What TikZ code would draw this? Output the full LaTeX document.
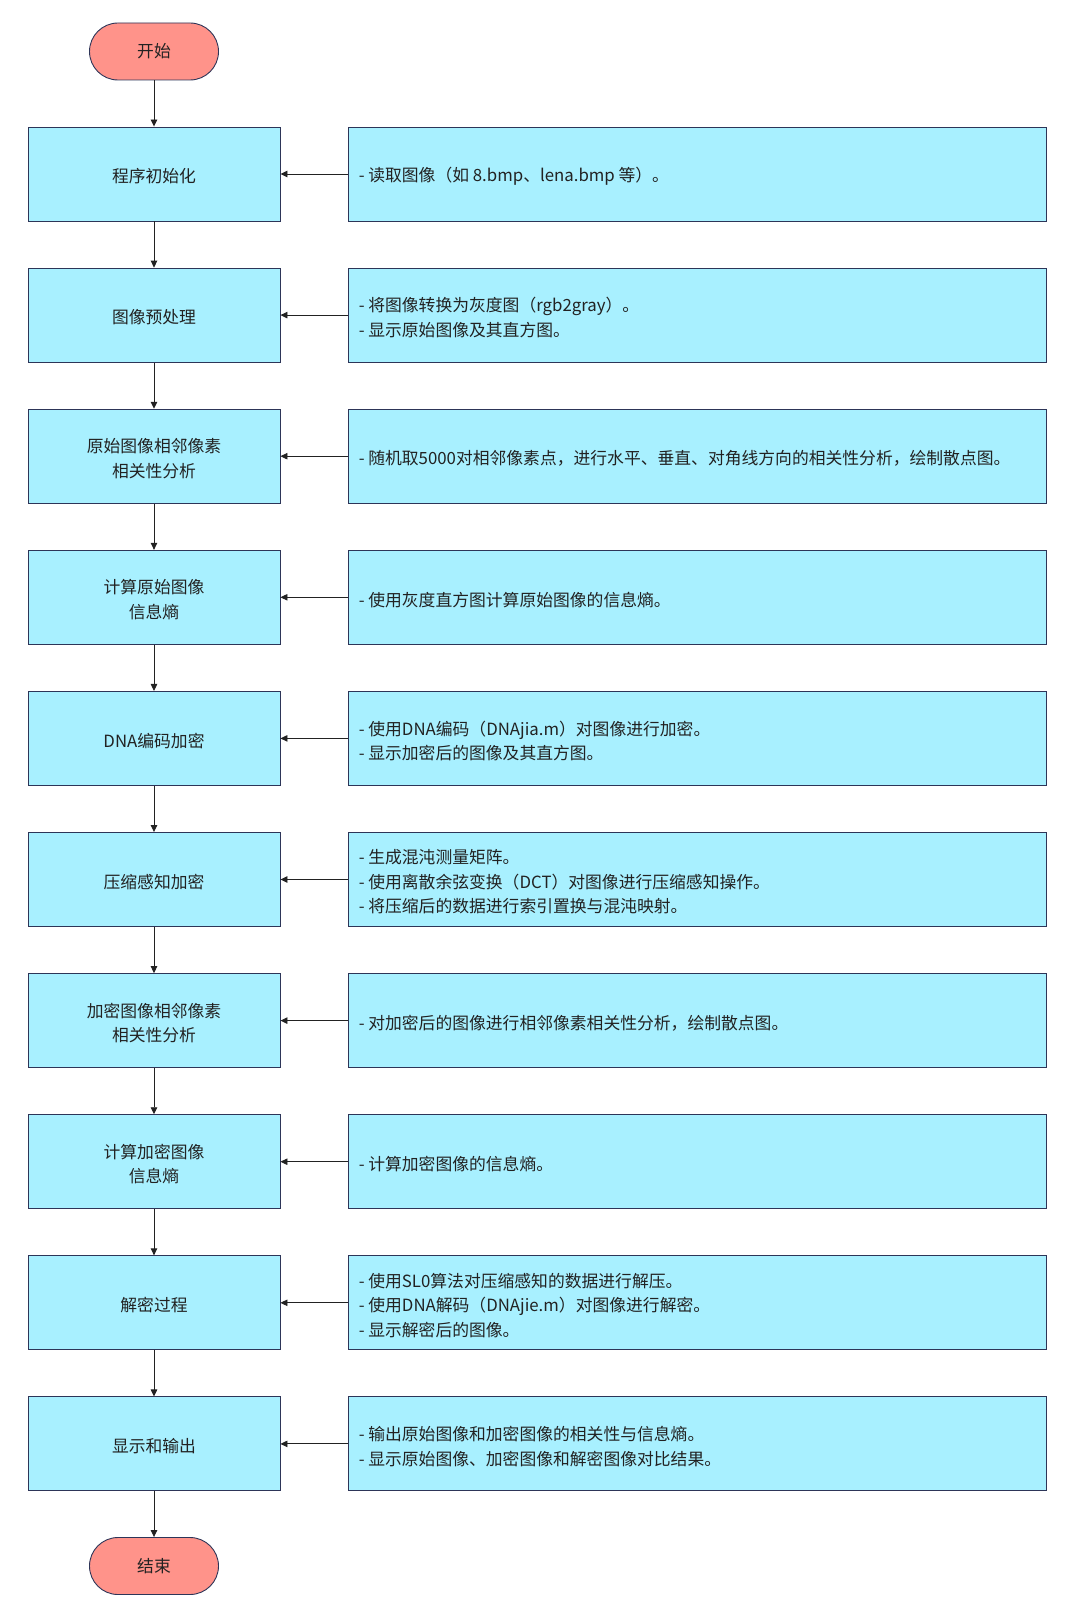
\documentclass[tikz,border=0pt]{standalone}
\usepackage{fontspec}
\setmainfont{Noto Sans CJK SC}
\usetikzlibrary{arrows.meta}
\definecolor{boxfill}{HTML}{A8F0FF}
\definecolor{termfill}{HTML}{FF938A}
\definecolor{edge}{HTML}{2D3558}
\definecolor{txt}{HTML}{222222}
\tikzset{
  stepbox/.style={draw=edge,fill=boxfill,line width=0.9pt,minimum width=252pt,minimum height=94pt,inner sep=0pt,align=center,font=\fontsize{16.8}{24.5}\selectfont,text=txt},
  notebox/.style={draw=edge,fill=boxfill,line width=0.9pt,minimum width=698pt,minimum height=94pt,inner sep=0pt,text=txt},
  notetext/.style={anchor=west,align=left,inner sep=0pt,text=txt,font=\fontsize{16.8}{24.5}\selectfont},
  term/.style={draw=edge,fill=termfill,line width=0.9pt,minimum width=129pt,minimum height=57pt,rounded corners=28.5pt,inner sep=0pt,text=txt,font=\fontsize{16.8}{24.5}\selectfont},
  link/.style={draw=txt,line width=0.9pt,-{Triangle[length=7pt,width=6.5pt]}},
}
\begin{document}
\begin{tikzpicture}[x=1pt,y=-1pt]
\useasboundingbox (0,0) rectangle (1074,1616);
\node[term] (start) at (154,51.5) {\raisebox{-2.5pt}{开始}};
\node[term] (end) at (154,1566) {\raisebox{-2.5pt}{结束}};
\foreach \i/\lbl in {0/{程序初始化},1/{图像预处理},2/{原始图像相邻像素\\相关性分析},3/{计算原始图像\\信息熵},4/{DNA编码加密},5/{压缩感知加密},6/{加密图像相邻像素\\相关性分析},7/{计算加密图像\\信息熵},8/{解密过程},9/{显示和输出}}{
  \node[stepbox] (s\i) at (154,{174+141.1*\i}) {};
  \node[stepbox,draw=none,fill=none] at ([yshift=-2.5pt]s\i.center) {\lbl};
  \node[notebox] (n\i) at (697,{174+141.1*\i}) {};
}
\node[notetext] at ([xshift=11pt,yshift=-2.5pt]n0.west) {- 读取图像（如 8.bmp、lena.bmp 等）。};
\node[notetext] at ([xshift=11pt,yshift=-2.5pt]n1.west) {- 将图像转换为灰度图（rgb2gray）。\\- 显示原始图像及其直方图。};
\node[notetext] at ([xshift=11pt,yshift=-2.5pt]n2.west) {- 随机取5000对相邻像素点，进行水平、垂直、对角线方向的相关性分析，绘制散点图。};
\node[notetext] at ([xshift=11pt,yshift=-2.5pt]n3.west) {- 使用灰度直方图计算原始图像的信息熵。};
\node[notetext] at ([xshift=11pt,yshift=-2.5pt]n4.west) {- 使用DNA编码（DNAjia.m）对图像进行加密。\\- 显示加密后的图像及其直方图。};
\node[notetext] at ([xshift=11pt,yshift=-2.5pt]n5.west) {- 生成混沌测量矩阵。\\- 使用离散余弦变换（DCT）对图像进行压缩感知操作。\\- 将压缩后的数据进行索引置换与混沌映射。};
\node[notetext] at ([xshift=11pt,yshift=-2.5pt]n6.west) {- 对加密后的图像进行相邻像素相关性分析，绘制散点图。};
\node[notetext] at ([xshift=11pt,yshift=-2.5pt]n7.west) {- 计算加密图像的信息熵。};
\node[notetext] at ([xshift=11pt,yshift=-2.5pt]n8.west) {- 使用SL0算法对压缩感知的数据进行解压。\\- 使用DNA解码（DNAjie.m）对图像进行解密。\\- 显示解密后的图像。};
\node[notetext] at ([xshift=11pt,yshift=-2.5pt]n9.west) {- 输出原始图像和加密图像的相关性与信息熵。\\- 显示原始图像、加密图像和解密图像对比结果。};
\draw[link] (start) -- (s0);
\foreach \i [evaluate=\i as \j using int(\i+1)] in {0,...,8}{
  \draw[link] (s\i) -- (s\j);
}
\draw[link] (s9) -- (end);
\foreach \i in {0,...,9}{
  \draw[link] (n\i) -- (s\i);
}
\end{tikzpicture}
\end{document}
